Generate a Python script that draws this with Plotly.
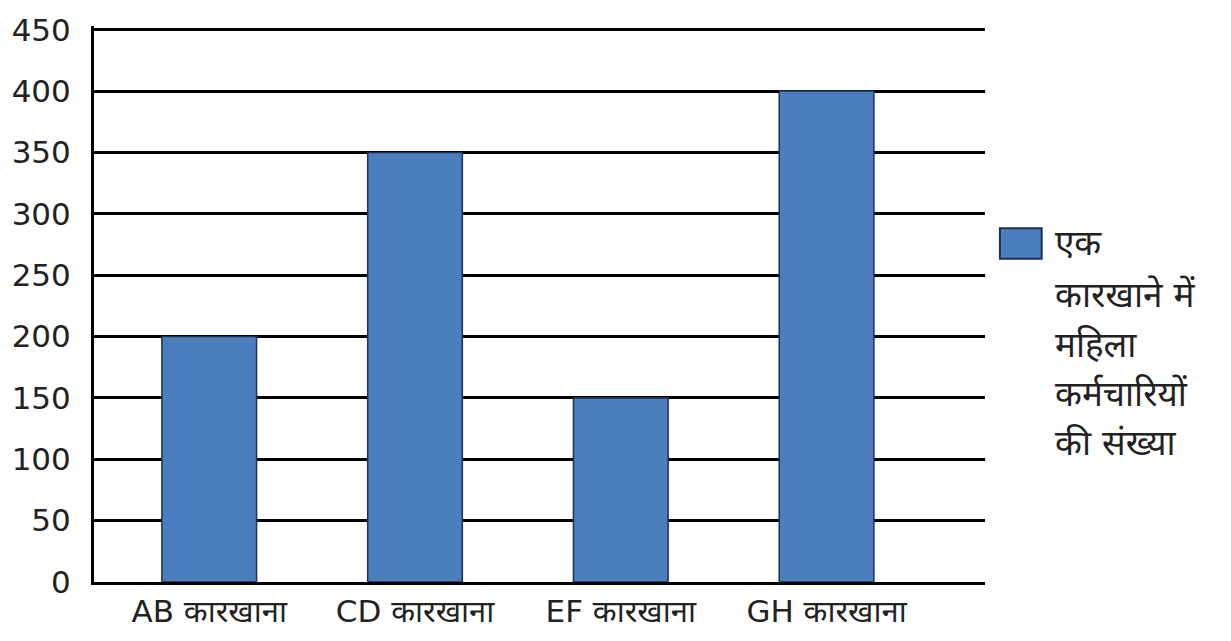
import plotly.graph_objects as go

categories = ["AB कारखाना", "CD कारखाना", "EF कारखाना", "GH कारखाना"]
values = [200, 350, 150, 400]
series_lines = ["एक", "कारखाने में", "महिला", "कर्मचारियों", "की संख्या"]
y_ticks = [0, 50, 100, 150, 200, 250, 300, 350, 400, 450]

BAR_COLOR = "#4a7ebd"
EDGE_COLOR = "#1e3250"

# plot-area geometry (pixels) used to place the hand-built legend
W, H = 1231, 641
L, R, T, B = 89, 246, 22, 53
pw, ph = W - L - R, H - T - B


def px_x(px):
    return (px - L) / pw


def px_y(py):
    return (H - B - py) / ph


fig = go.Figure()
fig.add_trace(go.Bar(
    x=categories, y=values, name="<br>".join(series_lines),
    marker=dict(color=BAR_COLOR, line=dict(color=EDGE_COLOR, width=1.5)),
    width=0.46, showlegend=False,
))

# legend swatch
fig.add_shape(type="rect", xref="paper", yref="paper",
              x0=px_x(1000), x1=px_x(1042), y0=px_y(259), y1=px_y(228),
              fillcolor=BAR_COLOR, line=dict(color=EDGE_COLOR, width=2))

# legend text lines
line_centers = [243, 296, 347, 397, 447]
for txt, cy in zip(series_lines, line_centers):
    fig.add_annotation(text=txt, xref="paper", yref="paper",
                       x=px_x(1053), y=px_y(cy), xanchor="left", yanchor="middle",
                       showarrow=False, font=dict(size=35, color="#222"))

fig.update_layout(
    width=W, height=H,
    margin=dict(l=L, r=R, t=T, b=B),
    paper_bgcolor="white", plot_bgcolor="white",
    font=dict(family="DejaVu Sans, Noto Sans, sans-serif", size=30, color="#222"),
    showlegend=False,
    xaxis=dict(type="category", range=[-0.56, 3.77], showgrid=False,
               showline=True, linecolor="black", linewidth=3,
               ticks="", tickfont=dict(size=31, color="#222")),
    yaxis=dict(range=[0, 453], tickvals=y_ticks, showgrid=True,
               gridcolor="black", gridwidth=2.5, zeroline=False,
               showline=True, linecolor="black", linewidth=3,
               ticks="", ticklabelstandoff=14,
               tickfont=dict(size=31, color="#222")),
)

fig.write_html("out.html")
